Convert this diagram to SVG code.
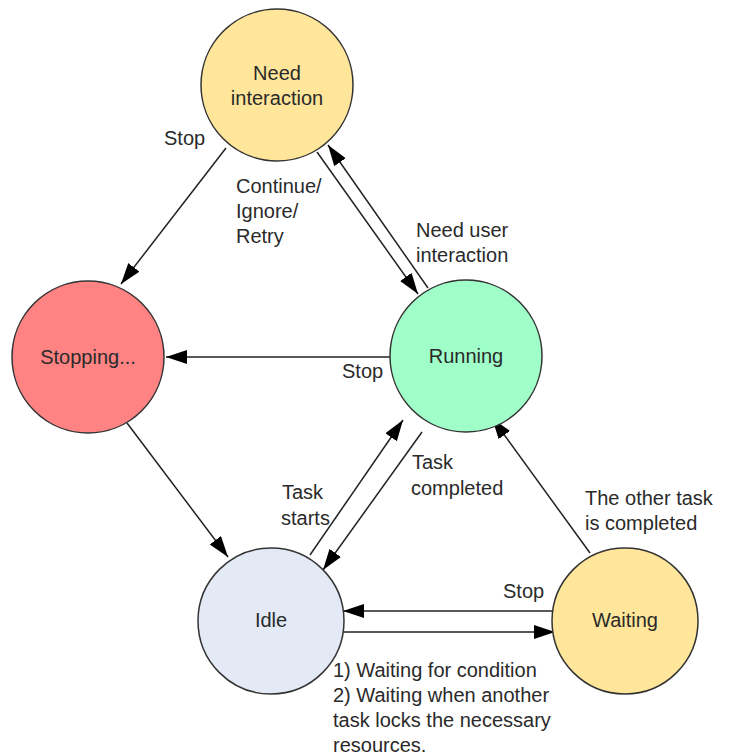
<svg xmlns="http://www.w3.org/2000/svg" width="750" height="756" viewBox="0 0 750 756">
<defs>
<marker id="arr" markerUnits="userSpaceOnUse" markerWidth="22" markerHeight="16" refX="21" refY="7" orient="auto">
<path d="M0,0 L21,7 L0,14 z" fill="#000"/>
</marker>
<style>
.node{stroke:#333;stroke-width:1.5}
.lbl{font-family:"Liberation Sans",Arial,sans-serif;font-size:20px;fill:#2a2a2a}
.mid{text-anchor:middle}
.edge{stroke:#222;stroke-width:1.5;fill:none;marker-end:url(#arr)}
</style>
</defs>
<rect width="750" height="756" fill="#fff"/>
<g id="connectors">
<path class="edge" d="M226,148 L121,284"/>
<path class="edge" d="M317,152 L418,294"/>
<path class="edge" d="M428,288 L328,145"/>
<path class="edge" d="M390,357 L166,357"/>
<path class="edge" d="M127,423 L228,557"/>
<path class="edge" d="M310,555 L403,420"/>
<path class="edge" d="M422,432 L323,570"/>
<path class="edge" d="M590,553 L492,418"/>
<path class="edge" d="M555,611 L343,611"/>
<path class="edge" d="M343,632 L555,632"/>
</g>
<g id="edge-labels">
<text class="lbl" x="164" y="145">Stop</text>
<text class="lbl" x="236" y="193">Continue/</text>
<text class="lbl" x="236" y="218">Ignore/</text>
<text class="lbl" x="236" y="243">Retry</text>
<text class="lbl" x="416" y="237">Need user</text>
<text class="lbl" x="416" y="262">interaction</text>
<text class="lbl" x="342" y="378">Stop</text>
<text class="lbl" x="282" y="499">Task</text>
<text class="lbl" x="281" y="525">starts</text>
<text class="lbl" x="412" y="469">Task</text>
<text class="lbl" x="411" y="495">completed</text>
<text class="lbl" x="585" y="505">The other task</text>
<text class="lbl" x="585" y="530">is completed</text>
<text class="lbl" x="503" y="598">Stop</text>
<text class="lbl" x="333" y="677">1) Waiting for condition</text>
<text class="lbl" x="333" y="702">2) Waiting when another</text>
<text class="lbl" x="333" y="727">task locks the necessary</text>
<text class="lbl" x="333" y="752">resources.</text>
</g>
<g id="need-interaction">
<circle class="node" cx="277" cy="85" r="76" fill="#FFE69B"/>
<text class="lbl mid" x="277" y="80">Need</text>
<text class="lbl mid" x="277" y="105">interaction</text>
</g>
<g id="stopping">
<circle class="node" cx="88" cy="357" r="76" fill="#FF8383"/>
<text class="lbl mid" x="88" y="364">Stopping...</text>
</g>
<g id="running">
<circle class="node" cx="466" cy="356" r="76" fill="#A0FFC9"/>
<text class="lbl mid" x="466" y="363">Running</text>
</g>
<g id="idle">
<circle class="node" cx="271" cy="621" r="73" fill="#E3EAF6"/>
<text class="lbl mid" x="271" y="627">Idle</text>
</g>
<g id="waiting">
<circle class="node" cx="625" cy="621" r="73" fill="#FFE69B"/>
<text class="lbl mid" x="625" y="627">Waiting</text>
</g>
</svg>
